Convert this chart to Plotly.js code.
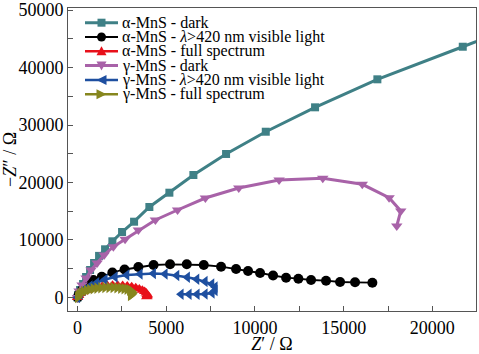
<!DOCTYPE html>
<html>
<head>
<meta charset="utf-8">
<script src="https://cdn.plot.ly/plotly-3.0.1.min.js"></script>
<style>html,body{margin:0;padding:0;background:#fff;}#chart{width:479px;height:354px;}</style>
</head>
<body>
<div id="chart"></div>
<script>
// Series names
const seriesNames = [
  "α-MnS - dark",
  "α-MnS - <i>λ</i>>420 nm visible light",
  "α-MnS - full spectrum",
  "γ-MnS - dark",
  "γ-MnS - <i>λ</i>>420 nm visible light",
  "γ-MnS - full spectrum"
];

// α-MnS dark
const aDarkX = [0, 30, 140, 310, 480, 705, 930, 1212, 1550, 1962, 2508, 3185, 4047, 5175, 6528, 8371, 10609, 13388, 16900, 21714, 25700];
const aDarkY = [0, 430, 1300, 2350, 3565, 4780, 6000, 7235, 8382, 9773, 11390, 13182, 15738, 18225, 21303, 24962, 28832, 33075, 37945, 43614, 48300];

// α-MnS λ>420 nm
const aVisX = [0, 85, 254, 535, 891, 1364, 1962, 2649, 3427, 4284, 5214, 6156, 7114, 8089, 8935, 9611, 10288, 11020, 11753, 12447, 13162, 14007, 14797, 15642, 16618];
const aVisY = [0, 609, 1304, 2174, 3043, 3617, 4348, 4869, 5304, 5652, 5773, 5773, 5652, 5356, 4956, 4608, 4261, 3826, 3443, 3269, 3043, 2921, 2695, 2643, 2574];

// α-MnS full spectrum
const aFullX = [0, 60, 150, 280, 450, 650, 880, 1130, 1400, 1680, 1970, 2260, 2540, 2800, 3050, 3280, 3480, 3650, 3780, 3870, 3920, 3930, 3900];
const aFullY = [0, 350, 700, 1000, 1280, 1520, 1730, 1890, 2010, 2090, 2130, 2130, 2080, 1990, 1860, 1690, 1490, 1260, 1020, 780, 540, 320, 120];

// γ-MnS dark
const gDarkX = [0, 85, 254, 480, 761, 1100, 1494, 2018, 2677, 3427, 4386, 5637, 7204, 9087, 11359, 13822, 16049, 17560, 18219, 17993];
const gDarkY = [0, 1130, 2170, 3390, 4780, 6000, 7390, 8834, 10121, 11738, 13477, 15216, 17303, 19042, 20433, 20729, 19685, 17355, 15042, 12434];

// γ-MnS λ>420 nm
const gVisX = [0, 141, 327, 705, 1082, 1550, 2114, 2773, 3523, 4273, 4932, 5592, 6189, 6719, 7187, 7565, 7751, 7751, 7582, 7187, 6736, 6285, 5834];
const gVisY = [0, 609, 1304, 2000, 2574, 3130, 3565, 3913, 4087, 4174, 4087, 3826, 3513, 3165, 2782, 2348, 1826, 1217, 783, 609, 556, 556, 556];

// γ-MnS full spectrum
const gFullX = [0, 40, 110, 210, 340, 500, 680, 880, 1090, 1310, 1540, 1770, 2000, 2220, 2430, 2620, 2790, 2930, 3030, 3090, 3100, 3060, 2980];
const gFullY = [0, 300, 580, 830, 1050, 1240, 1400, 1530, 1630, 1700, 1740, 1750, 1730, 1690, 1620, 1530, 1420, 1280, 1110, 920, 720, 520, 340];

const xTitle = "<i>Z</i>′ / Ω";
const yTitle = "−<i>Z</i>″ / Ω";

const styles = [
  {color: "#3F8086", symbol: "square", size: 8, width: 3},
  {color: "#000000", symbol: "circle", size: 10, width: 1.8},
  {color: "#E8101A", symbol: "triangle-up", size: 10, width: 2.5},
  {color: "#A862A8", symbol: "triangle-down", size: 10, width: 3},
  {color: "#1E4FA0", symbol: "triangle-left", size: 10, width: 2.5},
  {color: "#86861E", symbol: "triangle-right", size: 10, width: 2.5}
];
const xs = [aDarkX, aVisX, aFullX, gDarkX, gVisX, gFullX];
const ys = [aDarkY, aVisY, aFullY, gDarkY, gVisY, gFullY];

const traces = xs.map((x, i) => ({
  x: x, y: ys[i], name: seriesNames.map(s => s.replace(/<\/?i>/g, ""))[i], type: "scatter", mode: "lines+markers",
  line: {color: styles[i].color, width: styles[i].width},
  marker: {color: styles[i].color, symbol: styles[i].symbol, size: styles[i].size},
  cliponaxis: true, showlegend: false
}));

// Compact legend (layout only): plot area in pixels
const W = 479, H = 354, ML = 68, MR = 3, MT = 8, MB = 43;
const PW = W - ML - MR, PH = H - MT - MB;
const px2x = p => (p - ML) / PW;
const py2y = p => 1 - (p - MT) / PH;
const legLineX0 = 85, legLineX1 = 118, legTextX = 121, legRow0 = 22.7, legRowGap = 14.3;
const glyphs = {
  "square": "M-4,-4 L4,-4 L4,4 L-4,4 Z",
  "triangle-up": "M-5,-4 L5,-4 L0,5 Z",
  "triangle-down": "M-5,4 L5,4 L0,-5 Z",
  "triangle-left": "M5,-5 L5,5 L-5,0 Z",
  "triangle-right": "M-5,-5 L-5,5 L5,0 Z"
};
const shapes = [], annotations = [];
seriesNames.forEach((nm, i) => {
  const yc = py2y(legRow0 + i * legRowGap);
  const st = styles[i];
  shapes.push({type: "line", xref: "paper", yref: "paper", x0: px2x(legLineX0), x1: px2x(legLineX1), y0: yc, y1: yc,
               line: {color: st.color, width: st.width}});
  const xm = px2x((legLineX0 + legLineX1) / 2);
  if (st.symbol === "circle") {
    shapes.push({type: "circle", xref: "paper", yref: "paper", xsizemode: "pixel", ysizemode: "pixel",
                 xanchor: xm, yanchor: yc, x0: -4.5, x1: 4.5, y0: -4.5, y1: 4.5,
                 fillcolor: st.color, line: {width: 0}});
  } else {
    shapes.push({type: "path", xref: "paper", yref: "paper", xsizemode: "pixel", ysizemode: "pixel",
                 xanchor: xm, yanchor: yc, path: glyphs[st.symbol], fillcolor: st.color, line: {width: 0}});
  }
  annotations.push({xref: "paper", yref: "paper", x: px2x(legTextX), y: yc, xanchor: "left", yanchor: "middle",
                    borderpad: 0,
                    text: nm, showarrow: false, font: {family: "Liberation Serif", size: 16, color: "#000"}});
});

const font = "Liberation Serif";
const layout = {
  width: W, height: H,
  margin: {l: ML, r: MR, t: MT, b: MB},
  paper_bgcolor: "#fff", plot_bgcolor: "#fff",
  font: {family: font, size: 18, color: "#000"},
  showlegend: false,
  shapes: shapes,
  annotations: annotations,
  xaxis: {
    range: [-540, 22460], dtick: 5000, tick0: 0, tickformat: "d",
    ticks: "inside", ticklen: 5, tickcolor: "#555", showgrid: false, zeroline: false,
    showline: true, linecolor: "#555", linewidth: 1, mirror: true,
    minor: {dtick: 2500, tick0: 0, ticks: "inside", ticklen: 5, tickcolor: "#555"},
    tickfont: {family: font, size: 18},
    title: {text: xTitle, font: {family: font, size: 18}, standoff: 4}
  },
  yaxis: {
    range: [-2350, 50350], dtick: 10000, tick0: 0, tickformat: "d",
    ticks: "inside", ticklen: 5, tickcolor: "#555", showgrid: false, zeroline: false,
    showline: true, linecolor: "#555", linewidth: 1, mirror: true,
    minor: {dtick: 5000, tick0: 0, ticks: "inside", ticklen: 5, tickcolor: "#555"},
    tickfont: {family: font, size: 18},
    title: {text: yTitle, font: {family: font, size: 18}, standoff: 2}
  }
};
Plotly.newPlot("chart", traces, layout, {displayModeBar: false, staticPlot: true});
</script>
</body>
</html>
